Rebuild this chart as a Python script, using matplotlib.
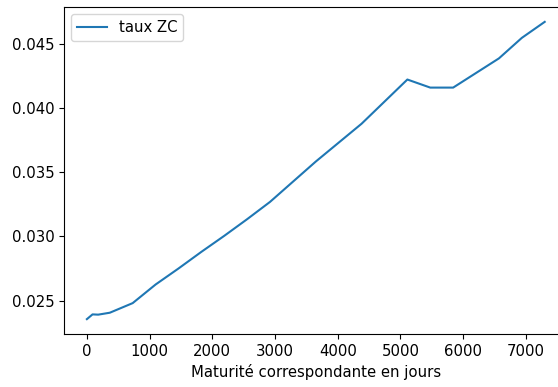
import matplotlib
matplotlib.use("Agg")
import matplotlib.pyplot as plt

# maturities in days and the zero-coupon rate for each
maturites = [0, 90, 180, 365, 730, 1095, 1460, 1825, 2190, 2555, 2920,
             3650, 4380, 5110, 5475, 5840, 6570, 6935, 7300]
taux_zc = [0.02355, 0.02392, 0.02390, 0.02405, 0.02480, 0.02625, 0.02750,
           0.02880, 0.03005, 0.03135, 0.03270, 0.03585, 0.03880, 0.04225,
           0.04162, 0.04162, 0.04390, 0.04550, 0.04675]

plt.rcParams["font.size"] = 10.7

fig = plt.figure(figsize=(5.58, 3.87), dpi=100)
# axes run a little past the right edge of the saved image
ax = fig.add_axes([64 / 558, 53 / 387, 503.6 / 558, 327 / 387])
ax.plot(maturites, taux_zc, label="taux ZC")
ax.set_xlabel("Maturité correspondante en jours")
ax.legend(loc="upper left")

fig.savefig("out.png", dpi=100)
